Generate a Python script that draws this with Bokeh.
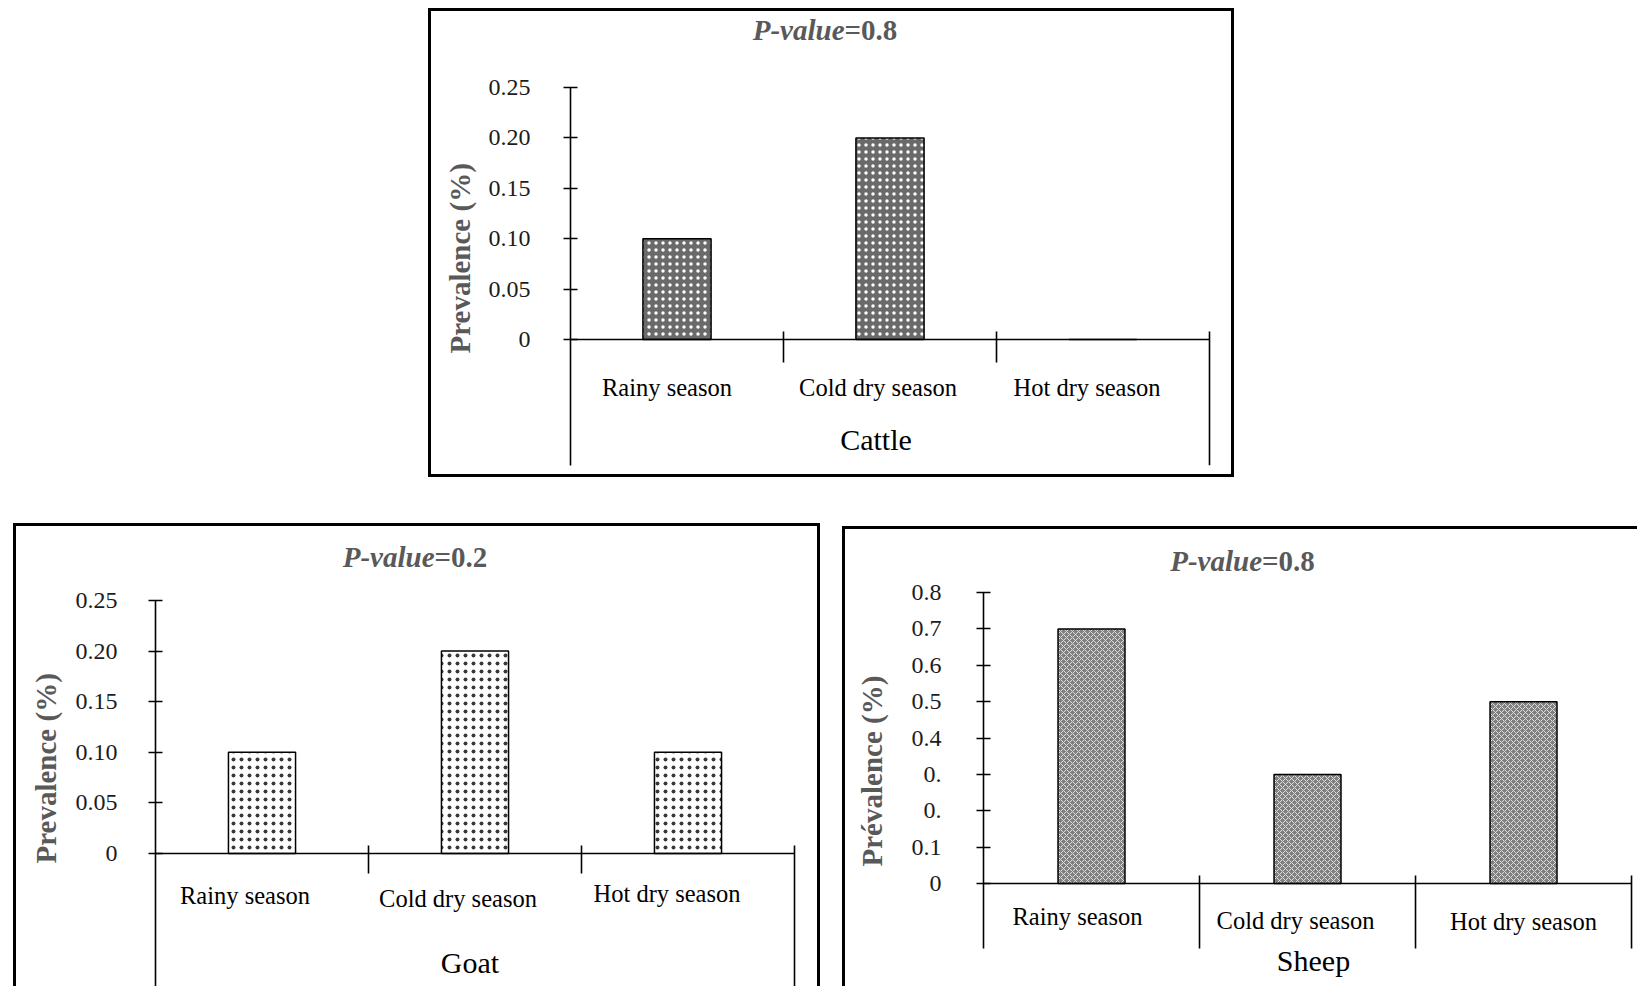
import numpy as np
from bokeh.plotting import figure
from bokeh.models import Range1d, FixedTicker, Title, Spacer
from bokeh.core.properties import value
from bokeh.layouts import column, row
from bokeh.embed import file_html
from bokeh.resources import INLINE

# ---------------- data ----------------
categories = ["Rainy season", "Cold dry season", "Hot dry season"]

cattle_prev = [0.10, 0.20, 0.0]
goat_prev = [0.10, 0.20, 0.10]
sheep_prev = [0.70, 0.30, 0.50]

cattle_ticks = [0, 0.05, 0.10, 0.15, 0.20, 0.25]
cattle_tick_labels = ["0", "0.05", "0.10", "0.15", "0.20", "0.25"]
goat_ticks = [0, 0.05, 0.10, 0.15, 0.20, 0.25]
goat_tick_labels = ["0", "0.05", "0.10", "0.15", "0.20", "0.25"]
sheep_ticks = [0, 0.1, 0.2, 0.3, 0.4, 0.5, 0.6, 0.7, 0.8]
sheep_tick_labels = ["0", "0.1", "0.", "0.", "0.4", "0.5", "0.6", "0.7", "0.8"]

species = ["Cattle", "Goat", "Sheep"]
p_values = ["0.8", "0.2", "0.8"]
y_titles = ["Prevalence (%)", "Prevalence (%)", "Prévalence (%)"]

SERIF = "Liberation Serif"
GRAY = "#595959"


def make_chart(values, ticks, tick_labels, name, pval, ytitle, g):
    n = len(values)
    W, H = g["W"], g["H"]
    fl = g["frame_left"]
    fb = g["frame_bottom"]            # canvas y of frame bottom
    zero = g["zero"]                  # canvas y of value 0
    ymax = ticks[-1]
    ppu = g["ppu"]                    # px per data unit
    ytop = zero / ppu                 # frame top = canvas top
    ymin = -(fb - zero) / ppu
    cw = g["cat_w"]
    extra = 4
    frame_w = n * cw + extra
    x_end = n + extra / cw

    p = figure(width=W, height=H, title=None,
               x_range=Range1d(0, x_end), y_range=Range1d(ymin, ytop),
               output_backend="svg", toolbar_location=None,
               x_axis_location=None, y_axis_location="left",
               min_border_left=fl, min_border_top=0,
               min_border_bottom=H - fb, min_border_right=W - fl - frame_w)
    p.xgrid.visible = False
    p.ygrid.visible = False
    p.outline_line_color = None
    p.background_fill_color = None
    p.border_fill_color = None
    p.styles = g["box_css"]

    ax = p.yaxis[0]
    ax.ticker = FixedTicker(ticks=ticks)
    ax.major_label_overrides = {t: s for t, s in zip(ticks, tick_labels)}
    low = -g["axis_low"] / ppu if g.get("axis_low") is not None else ymin
    ax.bounds = (low, ymax)
    ax.axis_line_width = 1.6
    ax.axis_line_color = "black"
    ax.major_tick_line_width = 1.6
    ax.major_tick_in = 7
    ax.major_tick_out = 7
    ax.minor_tick_line_color = None
    ax.major_label_standoff = g["standoff"]
    ax.major_label_text_font = SERIF
    ax.major_label_text_font_size = "24px"
    ax.major_label_text_color = "#1c1c1c"

    # y title on the left
    p.add_layout(Title(text=ytitle, align="left", offset=g["ylab_offset"],
                       standoff=g["ylab_standoff"], text_font=SERIF,
                       text_font_style="bold", text_font_size="29px",
                       text_color=GRAY), "left")

    xs = np.arange(n) + 0.5
    p.vbar(x=xs, top=values, bottom=0, width=g["bar_w"],
           fill_color=g["fill"], line_color="black", line_width=1.5,
           hatch_pattern=g["hatch"], hatch_color=g["hatch_color"],
           hatch_scale=g["hatch_scale"], hatch_weight=g["hatch_weight"])

    # category axis line
    p.segment(x0=[0], x1=[n], y0=[0], y1=[0], line_color="black", line_width=1.6)
    # separators between categories
    up = 8 / ppu
    seps = np.arange(1, n + 1)
    lows = np.full(n, -g["sep_low"] / ppu)
    if g.get("last_to_bottom"):
        lows[-1] = ymin
    p.segment(x0=seps, x1=seps, y0=np.full(n, up), y1=lows,
              line_color="black", line_width=1.6)

    p.text(x=xs, y=np.zeros(n), text=categories, text_align="center",
           text_baseline="middle", y_offset=g["cat_dy"], x_offset=g["cat_dx"],
           text_font=value(SERIF), text_font_size="24.5px", text_color="black")
    p.text(x=[n / 2], y=[0], text=[name], text_align="center",
           text_baseline="middle", y_offset=g["name_dy"], x_offset=g["name_dx"],
           text_font=value(SERIF), text_font_size="30px", text_color="black")

    # title (two styles) at the top of the frame
    dx = g["split"] - (fl + n * cw / 2)
    p.text(x=[n / 2], y=[ytop], text=["P-value"], text_align="right",
           text_baseline="middle", x_offset=dx, y_offset=g["title_y"],
           text_font=value(SERIF), text_font_style="bold italic",
           text_font_size="29px", text_color=GRAY)
    p.text(x=[n / 2], y=[ytop], text=["=" + pval], text_align="left",
           text_baseline="middle", x_offset=dx, y_offset=g["title_y"],
           text_font=value(SERIF), text_font_style="bold",
           text_font_size="29px", text_color=GRAY)
    return p


g_cattle = dict(W=806, H=469, frame_left=142, frame_bottom=457, zero=331, ppu=1008,
                cat_w=213, standoff=33, bar_w=0.32,
                fill="#6a6a6a", hatch="dot", hatch_color="white", hatch_scale=7, hatch_weight=1.5,
                sep_low=23, last_to_bottom=True, axis_low=None,
                cat_dy=[48, 48, 48], cat_dx=[-10, -12, -16], name_dy=100, name_dx=-14,
                split=416, title_y=21, ylab_offset=112, ylab_standoff=20,
                box_css={"box-shadow": "inset 0 0 0 3px black"})
g_goat = dict(W=807, H=463, frame_left=142, frame_bottom=463, zero=330, ppu=1012,
              cat_w=213, standoff=31, bar_w=0.315,
              fill="white", hatch="dot", hatch_color="#3a3a3a", hatch_scale=8,
              hatch_weight=1.2,
              sep_low=20, last_to_bottom=True, axis_low=None,
              cat_dy=[42, 45, 40], cat_dx=[-17, -17, -21], name_dy=109, name_dx=-5,
              split=421, title_y=33, ylab_offset=123, ylab_standoff=22,
              box_css={"box-shadow": "inset 3px 3px 0 0 black, inset -3px 0 0 0 black"})
g_sheep = dict(W=805, H=463, frame_left=148, frame_bottom=463, zero=360, ppu=363.75,
               cat_w=217, standoff=35, bar_w=0.31,
               fill="#808080", hatch="diagonal_cross", hatch_color="#dedede", hatch_scale=6,
               hatch_weight=1,
               sep_low=65, last_to_bottom=False, axis_low=65,
               cat_dy=[33, 37, 38], cat_dx=[-14, -12, 0], name_dy=77, name_dx=6,
               split=428, title_y=37, ylab_offset=120, ylab_standoff=42,
               box_css={"background": "linear-gradient(#000,#000) 10px 3px / 3px calc(100% - 3px) no-repeat, "
                                      "linear-gradient(#000,#000) 10px 3px / calc(100% - 10px) 3px no-repeat"})

p1 = make_chart(cattle_prev, cattle_ticks, cattle_tick_labels, species[0], p_values[0], y_titles[0], g_cattle)
p2 = make_chart(goat_prev, goat_ticks, goat_tick_labels, species[1], p_values[1], y_titles[1], g_goat)
p3 = make_chart(sheep_prev, sheep_ticks, sheep_tick_labels, species[2], p_values[2], y_titles[2], g_sheep)

layout = column(
    Spacer(width=10, height=8),
    row(Spacer(width=428, height=469), p1),
    Spacer(width=10, height=46),
    row(Spacer(width=13, height=463), p2, Spacer(width=12, height=463), p3),
)

open("out.html", "w").write(file_html(layout, INLINE))
